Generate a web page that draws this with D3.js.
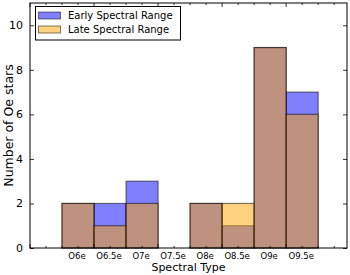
<!DOCTYPE html>
<html lang="en">
	<head>
		<meta charset="utf-8">
		<title>Oe stars by spectral type</title>
		<script src="https://d3js.org/d3.v7.min.js"></script>
		<style type="text/css">
			body { margin: 0; background: #fff; }
			text { font-family: "DejaVu Sans", sans-serif; fill: #000; }
		</style>
	</head>
	<body>
		<script type="text/javascript">
			//Data
			let types = ["O6e", "O6.5e", "O7e", "O7.5e", "O8e", "O8.5e", "O9e", "O9.5e"];
			let early = [2, 2, 3, 0, 2, 1, 9, 7];
			let late = [2, 1, 2, 0, 2, 2, 9, 6];
			let yTicks = [0, 2, 4, 6, 8, 10];

			//Width and height
			let w = 350;
			let h = 275;
			let plotLeft = 30, plotRight = 347, plotTop = 3, plotBottom = 248;

			//Scales: one unit per bin, bin i covers [i, i+1]
			let xScale = d3.scaleLinear()
				.domain([-1, 8.9])
				.range([plotLeft, plotRight]);
			let yScale = d3.scaleLinear()
				.domain([0, 11])
				.range([plotBottom, plotTop]);

			let svg = d3.select("body")
				.append("svg")
				.attr("width", w)
				.attr("height", h);

			//Bars, early first then late on top, both half transparent
			function drawBars(values, colour, cls) {
				svg.append("g")
					.attr("class", cls)
					.selectAll("rect")
					.data(values)
					.enter()
					.append("rect")
					.attr("x", function(d, i) { return xScale(i); })
					.attr("y", function(d) { return yScale(d); })
					.attr("width", function(d, i) { return xScale(i + 1) - xScale(i); })
					.attr("height", function(d) { return yScale(0) - yScale(d); })
					.attr("fill", colour)
					.attr("fill-opacity", 0.5)
					.attr("stroke", "#000")
					.attr("stroke-opacity", 0.5)
					.attr("stroke-width", 1.2);
			}
			drawBars(early, "blue", "early");
			drawBars(late, "orange", "late");

			//Frame
			svg.append("rect")
				.attr("x", plotLeft)
				.attr("y", plotTop)
				.attr("width", plotRight - plotLeft)
				.attr("height", plotBottom - plotTop)
				.attr("fill", "none")
				.attr("stroke", "#000")
				.attr("stroke-width", 1);

			//X ticks (inward, top and bottom), labels at bin centres
			let minor = d3.range(-1, 8.9, 0.5);
			let xt = svg.append("g").attr("class", "x ticks");
			minor.forEach(function(v) {
				let major = Math.abs((v + 1) % 2) < 1e-9;
				let len = major ? 4 : 2;
				xt.append("line")
					.attr("x1", xScale(v)).attr("x2", xScale(v))
					.attr("y1", plotBottom).attr("y2", plotBottom - len)
					.attr("stroke", "#000").attr("stroke-width", 0.8);
				xt.append("line")
					.attr("x1", xScale(v)).attr("x2", xScale(v))
					.attr("y1", plotTop).attr("y2", plotTop + len)
					.attr("stroke", "#000").attr("stroke-width", 0.8);
			});
			svg.append("g")
				.attr("class", "x labels")
				.selectAll("text")
				.data(types)
				.enter()
				.append("text")
				.attr("x", function(d, i) { return xScale(i + 0.5) - 1; })
				.attr("y", 259)
				.attr("text-anchor", "middle")
				.attr("font-size", "8.5px")
				.text(function(d) { return d; });

			//Y axis
			let yAxis = d3.axisLeft(yScale)
				.tickValues(yTicks)
				.tickSize(-4)
				.tickPadding(7)
				.tickFormat(d3.format("d"));
			let gy = svg.append("g")
				.attr("class", "y axis")
				.attr("transform", "translate(" + plotLeft + ",0)")
				.call(yAxis);
			gy.select(".domain").remove();
			gy.selectAll("text").attr("font-size", "11px").attr("font-family", "DejaVu Sans");
			gy.selectAll("line").attr("stroke-width", 0.8);
			let gy2 = svg.append("g")
				.attr("transform", "translate(" + plotRight + ",0)")
				.call(d3.axisRight(yScale).tickValues(yTicks).tickSize(-4).tickFormat(""));
			gy2.select(".domain").remove();
			gy2.selectAll("line").attr("stroke-width", 0.8);

			//Axis titles
			svg.append("text")
				.attr("x", (plotLeft + plotRight) / 2)
				.attr("y", 271)
				.attr("text-anchor", "middle")
				.attr("font-size", "11px")
				.text("Spectral Type");
			svg.append("text")
				.attr("transform", "translate(12.5," + ((plotTop + plotBottom) / 2) + ") rotate(-90)")
				.attr("text-anchor", "middle")
				.attr("font-size", "12.5px")
				.text("Number of Oe stars");

			//Legend
			let legend = svg.append("g").attr("class", "legend");
			legend.append("rect")
				.attr("x", 35.5).attr("y", 6.5)
				.attr("width", 145).attr("height", 33.5)
				.attr("fill", "#fff")
				.attr("stroke", "#000")
				.attr("stroke-width", 1);
			let entries = [["Early Spectral Range", "blue"], ["Late Spectral Range", "orange"]];
			entries.forEach(function(e, i) {
				let y = 12 + i * 14;
				legend.append("rect")
					.attr("x", 38.5).attr("y", y)
					.attr("width", 22).attr("height", 7)
					.attr("fill", e[1]).attr("fill-opacity", 0.5)
					.attr("stroke", "#000").attr("stroke-opacity", 0.5);
				legend.append("text")
					.attr("x", 68)
					.attr("y", y + 7)
					.attr("font-size", "10px")
					.text(e[0]);
			});
		</script>
	</body>
</html>
